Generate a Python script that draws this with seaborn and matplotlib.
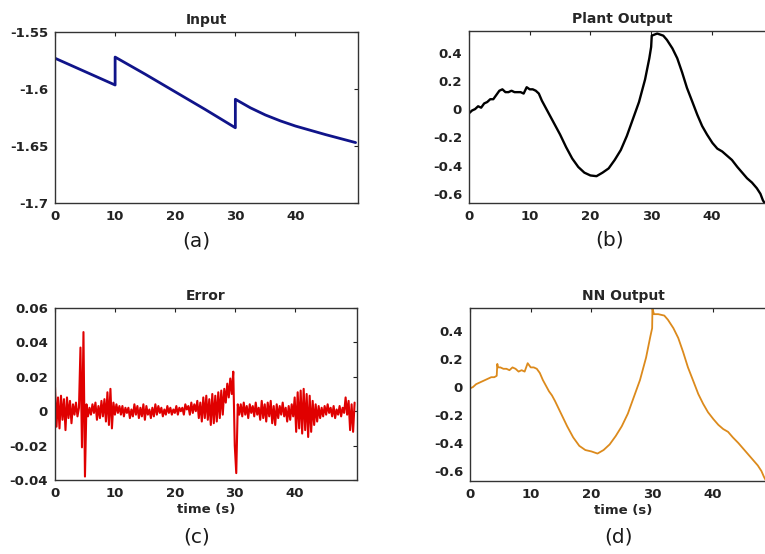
import matplotlib
matplotlib.use("Agg")
import matplotlib.pyplot as plt
import seaborn as sns
import pandas as pd

# ---- data -------------------------------------------------------------
input_t = [0, 10, 10, 15, 20, 25, 30, 30, 32.5, 35, 37.5, 40, 45, 50]
input_v = [-1.573, -1.5965, -1.572, -1.587, -1.6025, -1.618, -1.634, -1.609,
           -1.6165, -1.6228, -1.628, -1.6325, -1.640, -1.647]

plant_t = [0, 0.5, 1, 1.5, 2, 2.5, 3, 3.5, 4, 4.5, 5, 5.5, 6, 6.5, 7, 7.5, 8,
           8.5, 9, 9.5, 10, 10.5, 11, 11.5, 12, 12.5, 13, 13.5, 14, 15, 16,
           17, 18, 19, 20, 21, 22, 23, 24, 25, 26, 26.5, 27, 28, 29, 29.7,
           30, 30.1, 31, 32, 32.6, 33.5, 34.3, 35.1, 35.9, 36.8, 37.6, 38.4,
           39.2, 40.1, 40.9, 41.7, 42.5, 43.3, 44.2, 45.0, 45.8, 46.6, 47.4,
           48.0, 48.4, 49.0]
plant_v = [-0.03, -0.01, 0.00, 0.02, 0.01, 0.04, 0.05, 0.07, 0.07, 0.10, 0.13,
           0.14, 0.12, 0.12, 0.13, 0.12, 0.12, 0.12, 0.11, 0.155, 0.14, 0.14,
           0.13, 0.11, 0.06, 0.02, -0.02, -0.06, -0.10, -0.18, -0.27, -0.35,
           -0.41, -0.45, -0.47, -0.475, -0.45, -0.42, -0.36, -0.29, -0.19,
           -0.13, -0.07, 0.05, 0.21, 0.36, 0.44, 0.52, 0.535, 0.52, 0.49,
           0.43, 0.36, 0.26, 0.15, 0.05, -0.04, -0.12, -0.18, -0.24, -0.28,
           -0.30, -0.33, -0.36, -0.41, -0.45, -0.49, -0.52, -0.56, -0.60,
           -0.645, -0.69]

nn_t = [0, 0.5, 1, 1.5, 2, 2.5, 3, 3.5, 4, 4.4, 4.5, 4.6, 5, 5.5, 6, 6.5, 7,
        7.5, 8, 8.5, 9, 9.5, 10, 10.5, 11, 11.5, 12, 12.5, 13, 13.5, 14, 15,
        16, 17, 18, 19, 20, 21, 22, 23, 24, 25, 26, 26.5, 27, 28, 29, 29.7,
        30, 30.05, 30.3, 31, 32, 32.6, 33.5, 34.3, 35.1, 35.9, 36.8, 37.6,
        38.4, 39.2, 40.1, 40.9, 41.7, 42.5, 43.3, 44.2, 45.0, 45.8, 46.6,
        47.4, 48.0, 48.4, 49.0]
nn_v = [-0.01, 0.00, 0.02, 0.03, 0.04, 0.05, 0.06, 0.07, 0.07, 0.08, 0.165,
        0.14, 0.14, 0.13, 0.13, 0.12, 0.14, 0.13, 0.11, 0.12, 0.11, 0.17,
        0.14, 0.14, 0.13, 0.10, 0.05, 0.01, -0.03, -0.06, -0.10, -0.19,
        -0.28, -0.36, -0.42, -0.45, -0.46, -0.475, -0.45, -0.41, -0.35,
        -0.28, -0.19, -0.13, -0.07, 0.05, 0.21, 0.36, 0.42, 0.56, 0.52,
        0.52, 0.51, 0.48, 0.42, 0.35, 0.25, 0.14, 0.04, -0.05, -0.12,
        -0.18, -0.23, -0.27, -0.30, -0.32, -0.36, -0.40, -0.44, -0.48,
        -0.52, -0.56, -0.60, -0.64, -0.69]

# tracking error sampled every 0.25 s from 0 to 50 s
error_v = [
    0.014, -0.009, 0.008, -0.010,
    0.009, -0.005, 0.007, -0.011,
    0.008, -0.004, 0.006, -0.007,
    0.004, -0.002, 0.005, -0.003,
    0.002, 0.037, -0.021, 0.046,
    -0.038, 0.004, -0.003, 0.002,
    -0.002, 0.004, -0.001, 0.005,
    -0.005, 0.003, -0.004, 0.006,
    -0.003, 0.007, -0.006, 0.011,
    -0.008, 0.013, -0.010, 0.005,
    -0.002, 0.004, -0.001, 0.003,
    -0.002, 0.003, -0.003, 0.002,
    -0.001, 0.002, -0.004, 0.001,
    -0.003, 0.004, -0.002, 0.003,
    -0.004, 0.002, -0.003, 0.004,
    -0.005, 0.003, -0.002, 0.001,
    -0.004, 0.002, -0.003, 0.004,
    -0.002, 0.003, -0.001, 0.002,
    -0.003, 0.001, -0.002, 0.003,
    -0.001, 0.002, -0.002, 0.001,
    -0.001, 0.003, -0.002, 0.002,
    0.000, 0.002, -0.002, 0.004,
    0.001, 0.003, -0.002, 0.005,
    -0.001, 0.004, 0.000, 0.006,
    -0.004, 0.005, -0.006, 0.008,
    -0.004, 0.009, -0.005, 0.007,
    -0.008, 0.010, -0.007, 0.009,
    -0.006, 0.011, -0.004, 0.012,
    -0.002, 0.013, 0.005, 0.016,
    0.008, 0.019, 0.010, 0.023,
    -0.020, -0.036, 0.004, -0.002,
    0.004, -0.003, 0.005, -0.002,
    0.003, -0.004, 0.004, -0.001,
    0.003, -0.003, 0.005, -0.002,
    0.002, -0.005, 0.006, -0.004,
    0.004, -0.006, 0.005, -0.003,
    0.006, -0.007, 0.003, -0.008,
    0.004, -0.004, 0.003, -0.002,
    0.005, -0.003, 0.002, -0.006,
    0.003, -0.005, 0.004, -0.003,
    0.008, -0.012, 0.011, -0.010,
    0.012, -0.013, 0.013, -0.011,
    0.010, -0.015, 0.009, -0.012,
    0.006, -0.008, 0.004, -0.006,
    0.003, -0.004, 0.002, -0.003,
    0.003, -0.002, 0.004, -0.001,
    0.002, -0.003, 0.003, -0.004,
    0.001, -0.002, 0.003, -0.003,
    0.002, -0.001, 0.008, -0.002,
    0.006, -0.011, 0.004, -0.012,
    0.005,
]
error_t = [i * 0.25 for i in range(len(error_v))]

x_ticks = [0, 10, 20, 30, 40]
input_yticks = [-1.55, -1.6, -1.65, -1.7]
input_ylabels = ["-1.55", "-1.6", "-1.65", "-1.7"]
out_yticks = [0.4, 0.2, 0, -0.2, -0.4, -0.6]
out_ylabels = ["0.4", "0.2", "0", "-0.2", "-0.4", "-0.6"]
err_yticks = [0.06, 0.04, 0.02, 0, -0.02, -0.04]
err_ylabels = ["0.06", "0.04", "0.02", "0", "-0.02", "-0.04"]

# ---- figure -----------------------------------------------------------
sns.set_style("white")
plt.rcParams["font.family"] = ["DejaVu Sans"]

W, H = 765, 554
fig = plt.figure(figsize=(W / 100, H / 100), dpi=100)


def make_axes(left, top, right, bottom):
    return fig.add_axes([left / W, 1 - bottom / H, (right - left) / W,
                         (bottom - top) / H])


ax_a = make_axes(55, 32, 358, 203)
ax_b = make_axes(469, 31, 775, 203)
ax_c = make_axes(55, 308, 357, 480)
ax_d = make_axes(470, 308, 776, 481)

sns.lineplot(data=pd.DataFrame({"t": input_t, "v": input_v}), x="t", y="v",
             ax=ax_a, color="#10148a", linewidth=2.0, estimator=None,
             sort=False)
sns.lineplot(data=pd.DataFrame({"t": plant_t, "v": plant_v}), x="t", y="v",
             ax=ax_b, color="black", linewidth=1.7, estimator=None,
             sort=False)
sns.lineplot(data=pd.DataFrame({"t": error_t, "v": error_v}), x="t", y="v",
             ax=ax_c, color="#e00000", linewidth=1.5, estimator=None,
             sort=False)
sns.lineplot(data=pd.DataFrame({"t": nn_t, "v": nn_v}), x="t", y="v",
             ax=ax_d, color="#dc8a1c", linewidth=1.3, estimator=None,
             sort=False)

settings = [
    (ax_a, "Input", (-1.7, -1.55), input_yticks, input_ylabels, False),
    (ax_b, "Plant Output", (-0.665, 0.553), out_yticks, out_ylabels, False),
    (ax_c, "Error", (-0.04, 0.06), err_yticks, err_ylabels, True),
    (ax_d, "NN Output", (-0.671, 0.564), out_yticks, out_ylabels, True),
]

for ax, title, ylim, yt, yl, show_xlabel in settings:
    ax.set_xlim(0, 50.4)
    ax.set_ylim(*ylim)
    ax.set_xticks(x_ticks)
    ax.set_xticklabels([str(v) for v in x_ticks], fontweight="bold")
    ax.set_yticks(yt)
    ax.set_yticklabels(yl, fontweight="bold")
    ax.tick_params(direction="in", length=3, width=0.8, labelsize=9.5,
                   top=True, right=True, pad=5, colors="#222222",
                   labelcolor="#222222")
    for sp in ax.spines.values():
        sp.set_color("#333333")
        sp.set_linewidth(1.0)
    ax.set_title(title, fontsize=10, fontweight="bold", pad=6)
    ax.set_ylabel("")
    if show_xlabel:
        ax.set_xlabel("time (s)", fontsize=9.5, fontweight="bold", labelpad=2)
    else:
        ax.set_xlabel("")

for label, x, y in [("(a)", 196, 241), ("(b)", 610, 240),
                    ("(c)", 197, 537), ("(d)", 618, 537)]:
    fig.text(x / W, 1 - y / H, label, fontsize=14.5, ha="center",
             va="center", color="#1a1a1a")

fig.savefig("out.png", dpi=100)
